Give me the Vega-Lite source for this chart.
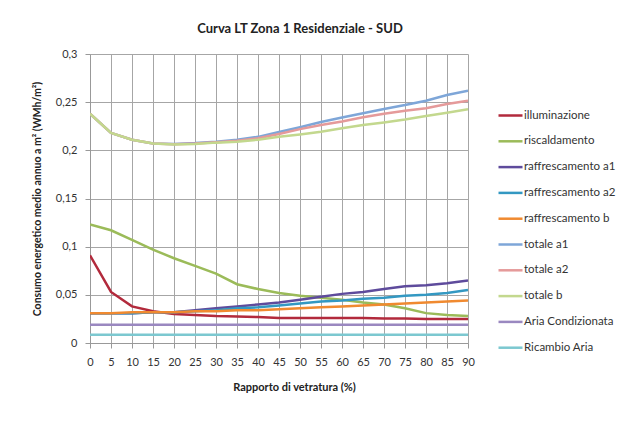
{
  "$schema": "https://vega.github.io/schema/vega-lite/v6.json",
  "width": 378,
  "height": 289,
  "autosize": {"type": "none"},
  "padding": {"left": 90, "top": 54, "right": 172, "bottom": 78},
  "background": "white",
  "title": {
    "text": "Curva LT Zona 1 Residenziale - SUD",
    "font": "Lato",
    "fontSize": 13,
    "fontWeight": "bold",
    "color": "#222222",
    "anchor": "middle",
    "dx": 21,
    "offset": 12
  },
  "data": {"values": [
    {"serie": "illuminazione", "x": 0, "v": 0.091}, {"serie": "illuminazione", "x": 5, "v": 0.053}, {"serie": "illuminazione", "x": 10, "v": 0.038}, {"serie": "illuminazione", "x": 15, "v": 0.033}, {"serie": "illuminazione", "x": 20, "v": 0.030}, {"serie": "illuminazione", "x": 25, "v": 0.029}, {"serie": "illuminazione", "x": 30, "v": 0.028}, {"serie": "illuminazione", "x": 35, "v": 0.0275}, {"serie": "illuminazione", "x": 40, "v": 0.027}, {"serie": "illuminazione", "x": 45, "v": 0.026}, {"serie": "illuminazione", "x": 50, "v": 0.026}, {"serie": "illuminazione", "x": 55, "v": 0.026}, {"serie": "illuminazione", "x": 60, "v": 0.026}, {"serie": "illuminazione", "x": 65, "v": 0.026}, {"serie": "illuminazione", "x": 70, "v": 0.0255}, {"serie": "illuminazione", "x": 75, "v": 0.0255}, {"serie": "illuminazione", "x": 80, "v": 0.025}, {"serie": "illuminazione", "x": 85, "v": 0.025}, {"serie": "illuminazione", "x": 90, "v": 0.025},
    {"serie": "riscaldamento", "x": 0, "v": 0.123}, {"serie": "riscaldamento", "x": 5, "v": 0.117}, {"serie": "riscaldamento", "x": 10, "v": 0.107}, {"serie": "riscaldamento", "x": 15, "v": 0.097}, {"serie": "riscaldamento", "x": 20, "v": 0.088}, {"serie": "riscaldamento", "x": 25, "v": 0.080}, {"serie": "riscaldamento", "x": 30, "v": 0.072}, {"serie": "riscaldamento", "x": 35, "v": 0.061}, {"serie": "riscaldamento", "x": 40, "v": 0.056}, {"serie": "riscaldamento", "x": 45, "v": 0.052}, {"serie": "riscaldamento", "x": 50, "v": 0.049}, {"serie": "riscaldamento", "x": 55, "v": 0.047}, {"serie": "riscaldamento", "x": 60, "v": 0.045}, {"serie": "riscaldamento", "x": 65, "v": 0.042}, {"serie": "riscaldamento", "x": 70, "v": 0.040}, {"serie": "riscaldamento", "x": 75, "v": 0.036}, {"serie": "riscaldamento", "x": 80, "v": 0.031}, {"serie": "riscaldamento", "x": 85, "v": 0.029}, {"serie": "riscaldamento", "x": 90, "v": 0.028},
    {"serie": "raffrescamento a1", "x": 0, "v": 0.031}, {"serie": "raffrescamento a1", "x": 5, "v": 0.031}, {"serie": "raffrescamento a1", "x": 10, "v": 0.031}, {"serie": "raffrescamento a1", "x": 15, "v": 0.032}, {"serie": "raffrescamento a1", "x": 20, "v": 0.032}, {"serie": "raffrescamento a1", "x": 25, "v": 0.034}, {"serie": "raffrescamento a1", "x": 30, "v": 0.036}, {"serie": "raffrescamento a1", "x": 35, "v": 0.038}, {"serie": "raffrescamento a1", "x": 40, "v": 0.040}, {"serie": "raffrescamento a1", "x": 45, "v": 0.042}, {"serie": "raffrescamento a1", "x": 50, "v": 0.045}, {"serie": "raffrescamento a1", "x": 55, "v": 0.048}, {"serie": "raffrescamento a1", "x": 60, "v": 0.051}, {"serie": "raffrescamento a1", "x": 65, "v": 0.053}, {"serie": "raffrescamento a1", "x": 70, "v": 0.056}, {"serie": "raffrescamento a1", "x": 75, "v": 0.059}, {"serie": "raffrescamento a1", "x": 80, "v": 0.060}, {"serie": "raffrescamento a1", "x": 85, "v": 0.062}, {"serie": "raffrescamento a1", "x": 90, "v": 0.065},
    {"serie": "raffrescamento a2", "x": 0, "v": 0.031}, {"serie": "raffrescamento a2", "x": 5, "v": 0.031}, {"serie": "raffrescamento a2", "x": 10, "v": 0.031}, {"serie": "raffrescamento a2", "x": 15, "v": 0.032}, {"serie": "raffrescamento a2", "x": 20, "v": 0.032}, {"serie": "raffrescamento a2", "x": 25, "v": 0.033}, {"serie": "raffrescamento a2", "x": 30, "v": 0.034}, {"serie": "raffrescamento a2", "x": 35, "v": 0.036}, {"serie": "raffrescamento a2", "x": 40, "v": 0.037}, {"serie": "raffrescamento a2", "x": 45, "v": 0.039}, {"serie": "raffrescamento a2", "x": 50, "v": 0.041}, {"serie": "raffrescamento a2", "x": 55, "v": 0.043}, {"serie": "raffrescamento a2", "x": 60, "v": 0.044}, {"serie": "raffrescamento a2", "x": 65, "v": 0.046}, {"serie": "raffrescamento a2", "x": 70, "v": 0.047}, {"serie": "raffrescamento a2", "x": 75, "v": 0.049}, {"serie": "raffrescamento a2", "x": 80, "v": 0.050}, {"serie": "raffrescamento a2", "x": 85, "v": 0.052}, {"serie": "raffrescamento a2", "x": 90, "v": 0.055},
    {"serie": "raffrescamento b", "x": 0, "v": 0.031}, {"serie": "raffrescamento b", "x": 5, "v": 0.031}, {"serie": "raffrescamento b", "x": 10, "v": 0.032}, {"serie": "raffrescamento b", "x": 15, "v": 0.032}, {"serie": "raffrescamento b", "x": 20, "v": 0.032}, {"serie": "raffrescamento b", "x": 25, "v": 0.033}, {"serie": "raffrescamento b", "x": 30, "v": 0.033}, {"serie": "raffrescamento b", "x": 35, "v": 0.034}, {"serie": "raffrescamento b", "x": 40, "v": 0.034}, {"serie": "raffrescamento b", "x": 45, "v": 0.035}, {"serie": "raffrescamento b", "x": 50, "v": 0.036}, {"serie": "raffrescamento b", "x": 55, "v": 0.037}, {"serie": "raffrescamento b", "x": 60, "v": 0.038}, {"serie": "raffrescamento b", "x": 65, "v": 0.039}, {"serie": "raffrescamento b", "x": 70, "v": 0.040}, {"serie": "raffrescamento b", "x": 75, "v": 0.041}, {"serie": "raffrescamento b", "x": 80, "v": 0.042}, {"serie": "raffrescamento b", "x": 85, "v": 0.043}, {"serie": "raffrescamento b", "x": 90, "v": 0.044},
    {"serie": "totale a1", "x": 0, "v": 0.238}, {"serie": "totale a1", "x": 5, "v": 0.218}, {"serie": "totale a1", "x": 10, "v": 0.211}, {"serie": "totale a1", "x": 15, "v": 0.207}, {"serie": "totale a1", "x": 20, "v": 0.2065}, {"serie": "totale a1", "x": 25, "v": 0.2075}, {"serie": "totale a1", "x": 30, "v": 0.209}, {"serie": "totale a1", "x": 35, "v": 0.211}, {"serie": "totale a1", "x": 40, "v": 0.214}, {"serie": "totale a1", "x": 45, "v": 0.219}, {"serie": "totale a1", "x": 50, "v": 0.224}, {"serie": "totale a1", "x": 55, "v": 0.2295}, {"serie": "totale a1", "x": 60, "v": 0.234}, {"serie": "totale a1", "x": 65, "v": 0.2385}, {"serie": "totale a1", "x": 70, "v": 0.243}, {"serie": "totale a1", "x": 75, "v": 0.247}, {"serie": "totale a1", "x": 80, "v": 0.2515}, {"serie": "totale a1", "x": 85, "v": 0.2575}, {"serie": "totale a1", "x": 90, "v": 0.262},
    {"serie": "totale a2", "x": 0, "v": 0.238}, {"serie": "totale a2", "x": 5, "v": 0.218}, {"serie": "totale a2", "x": 10, "v": 0.211}, {"serie": "totale a2", "x": 15, "v": 0.207}, {"serie": "totale a2", "x": 20, "v": 0.2063}, {"serie": "totale a2", "x": 25, "v": 0.207}, {"serie": "totale a2", "x": 30, "v": 0.2085}, {"serie": "totale a2", "x": 35, "v": 0.210}, {"serie": "totale a2", "x": 40, "v": 0.2125}, {"serie": "totale a2", "x": 45, "v": 0.217}, {"serie": "totale a2", "x": 50, "v": 0.222}, {"serie": "totale a2", "x": 55, "v": 0.2263}, {"serie": "totale a2", "x": 60, "v": 0.230}, {"serie": "totale a2", "x": 65, "v": 0.2343}, {"serie": "totale a2", "x": 70, "v": 0.238}, {"serie": "totale a2", "x": 75, "v": 0.241}, {"serie": "totale a2", "x": 80, "v": 0.2436}, {"serie": "totale a2", "x": 85, "v": 0.248}, {"serie": "totale a2", "x": 90, "v": 0.2515},
    {"serie": "totale b", "x": 0, "v": 0.238}, {"serie": "totale b", "x": 5, "v": 0.218}, {"serie": "totale b", "x": 10, "v": 0.211}, {"serie": "totale b", "x": 15, "v": 0.207}, {"serie": "totale b", "x": 20, "v": 0.206}, {"serie": "totale b", "x": 25, "v": 0.2065}, {"serie": "totale b", "x": 30, "v": 0.208}, {"serie": "totale b", "x": 35, "v": 0.209}, {"serie": "totale b", "x": 40, "v": 0.211}, {"serie": "totale b", "x": 45, "v": 0.214}, {"serie": "totale b", "x": 50, "v": 0.2165}, {"serie": "totale b", "x": 55, "v": 0.2193}, {"serie": "totale b", "x": 60, "v": 0.223}, {"serie": "totale b", "x": 65, "v": 0.2263}, {"serie": "totale b", "x": 70, "v": 0.229}, {"serie": "totale b", "x": 75, "v": 0.232}, {"serie": "totale b", "x": 80, "v": 0.2357}, {"serie": "totale b", "x": 85, "v": 0.239}, {"serie": "totale b", "x": 90, "v": 0.2426},
    {"serie": "Aria Condizionata", "x": 0, "v": 0.019}, {"serie": "Aria Condizionata", "x": 5, "v": 0.019}, {"serie": "Aria Condizionata", "x": 10, "v": 0.019}, {"serie": "Aria Condizionata", "x": 15, "v": 0.019}, {"serie": "Aria Condizionata", "x": 20, "v": 0.019}, {"serie": "Aria Condizionata", "x": 25, "v": 0.019}, {"serie": "Aria Condizionata", "x": 30, "v": 0.019}, {"serie": "Aria Condizionata", "x": 35, "v": 0.019}, {"serie": "Aria Condizionata", "x": 40, "v": 0.019}, {"serie": "Aria Condizionata", "x": 45, "v": 0.019}, {"serie": "Aria Condizionata", "x": 50, "v": 0.019}, {"serie": "Aria Condizionata", "x": 55, "v": 0.019}, {"serie": "Aria Condizionata", "x": 60, "v": 0.019}, {"serie": "Aria Condizionata", "x": 65, "v": 0.019}, {"serie": "Aria Condizionata", "x": 70, "v": 0.019}, {"serie": "Aria Condizionata", "x": 75, "v": 0.019}, {"serie": "Aria Condizionata", "x": 80, "v": 0.019}, {"serie": "Aria Condizionata", "x": 85, "v": 0.019}, {"serie": "Aria Condizionata", "x": 90, "v": 0.019},
    {"serie": "Ricambio Aria", "x": 0, "v": 0.0085}, {"serie": "Ricambio Aria", "x": 5, "v": 0.0085}, {"serie": "Ricambio Aria", "x": 10, "v": 0.0085}, {"serie": "Ricambio Aria", "x": 15, "v": 0.0085}, {"serie": "Ricambio Aria", "x": 20, "v": 0.0085}, {"serie": "Ricambio Aria", "x": 25, "v": 0.0085}, {"serie": "Ricambio Aria", "x": 30, "v": 0.0085}, {"serie": "Ricambio Aria", "x": 35, "v": 0.0085}, {"serie": "Ricambio Aria", "x": 40, "v": 0.0085}, {"serie": "Ricambio Aria", "x": 45, "v": 0.0085}, {"serie": "Ricambio Aria", "x": 50, "v": 0.0085}, {"serie": "Ricambio Aria", "x": 55, "v": 0.0085}, {"serie": "Ricambio Aria", "x": 60, "v": 0.0085}, {"serie": "Ricambio Aria", "x": 65, "v": 0.0085}, {"serie": "Ricambio Aria", "x": 70, "v": 0.0085}, {"serie": "Ricambio Aria", "x": 75, "v": 0.0085}, {"serie": "Ricambio Aria", "x": 80, "v": 0.0085}, {"serie": "Ricambio Aria", "x": 85, "v": 0.0085}, {"serie": "Ricambio Aria", "x": 90, "v": 0.0085}
  ]},
  "mark": {"type": "line", "strokeWidth": 2.5, "clip": true},
  "encoding": {
    "x": {
      "field": "x",
      "type": "quantitative",
      "scale": {"domain": [0, 90], "nice": false, "zero": false},
      "axis": {
        "title": "Rapporto di vetratura (%)",
        "values": [0, 5, 10, 15, 20, 25, 30, 35, 40, 45, 50, 55, 60, 65, 70, 75, 80, 85, 90],
        "labelFont": "Lato",
        "labelFontSize": 11,
        "labelColor": "#333333",
        "labelPadding": 8,
        "labelFlush": false,
        "labelOverlap": false,
        "tickSize": 5,
        "tickColor": "#999999",
        "domainColor": "#999999",
        "gridColor": "#A6A6A6",
        "gridWidth": 1,
        "titleFont": "Lato",
        "titleFontSize": 11,
        "titleFontWeight": "bold",
        "titleColor": "#222222",
        "titlePadding": 14,
        "titleX": 204
      }
    },
    "y": {
      "field": "v",
      "type": "quantitative",
      "scale": {"domain": [0, 0.3], "nice": false},
      "axis": {
        "title": "Consumo energetico medio annuo a m² (WMh/m²)",
        "values": [0, 0.05, 0.1, 0.15, 0.2, 0.25, 0.3],
        "labelExpr": "replace(toString(datum.value), '.', ',')",
        "labelFont": "Lato",
        "labelFontSize": 11,
        "labelColor": "#333333",
        "labelPadding": 8,
        "tickSize": 5,
        "tickColor": "#999999",
        "domainColor": "#999999",
        "gridColor": "#A6A6A6",
        "gridWidth": 1,
        "titleFont": "Lato",
        "titleFontSize": 10.5,
        "titleFontWeight": "bold",
        "titleColor": "#222222",
        "titlePadding": 13
      }
    },
    "color": {
      "field": "serie",
      "type": "nominal",
      "scale": {
        "domain": ["illuminazione", "riscaldamento", "raffrescamento a1", "raffrescamento a2", "raffrescamento b", "totale a1", "totale a2", "totale b", "Aria Condizionata", "Ricambio Aria"],
        "range": ["#B22A3C", "#9BBB59", "#5E4B9C", "#3398C2", "#F08A30", "#7EA6D8", "#E59A9A", "#C3D88E", "#9A88C0", "#7CC8D0"]
      },
      "legend": {
        "title": null,
        "orient": "none",
        "legendX": 407,
        "legendY": 48,
        "symbolType": "stroke",
        "symbolStrokeWidth": 2.5,
        "symbolSize": 576,
        "rowPadding": 6.8,
        "labelFont": "Lato",
        "labelFontSize": 11.5,
        "labelColor": "#333333",
        "labelOffset": 0
      }
    }
  },
  "config": {"view": {"stroke": null}}
}
